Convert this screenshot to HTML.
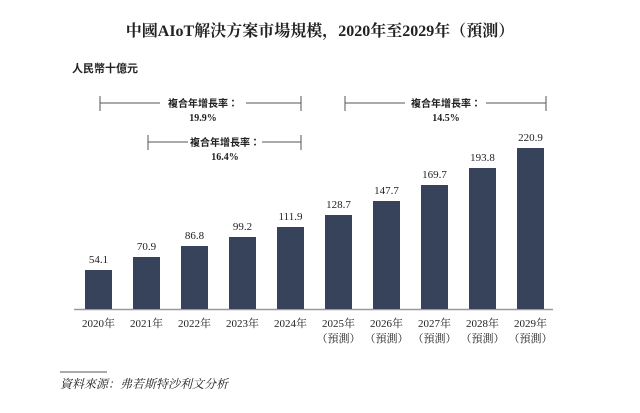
<!DOCTYPE html>
<html><head><meta charset="utf-8"><style>
body{margin:0;background:#fff;}
svg text{font-family:"Liberation Serif","Noto Serif CJK SC",serif;fill:#222;}
.s{font-family:"Liberation Sans","Noto Sans CJK TC",sans-serif !important;}
</style></head><body>
<svg width="640" height="408" viewBox="0 0 640 408" xmlns="http://www.w3.org/2000/svg">
<text x="320" y="36" text-anchor="middle" font-size="16" font-weight="bold">中國AIoT解決方案市場規模，2020年至2029年（預測）</text>
<text x="72" y="72" font-size="11" font-weight="bold" class="s">人民幣十億元</text>
<g stroke="#555" stroke-width="1" fill="none">
<line x1="100" y1="103" x2="160" y2="103"/><line x1="246" y1="103" x2="301" y2="103"/>
<line x1="100" y1="96" x2="100" y2="111"/><line x1="301" y1="96" x2="301" y2="111"/>
<line x1="148" y1="142" x2="188" y2="142"/><line x1="262" y1="142" x2="301" y2="142"/>
<line x1="148" y1="135" x2="148" y2="150"/><line x1="301" y1="135" x2="301" y2="150"/>
<line x1="345" y1="103" x2="405" y2="103"/><line x1="486" y1="103" x2="546" y2="103"/>
<line x1="345" y1="96" x2="345" y2="111"/><line x1="546" y1="96" x2="546" y2="111"/>
</g>
<g font-size="10" font-weight="bold" text-anchor="middle">
<text x="203" y="107" class="s">複合年增長率：</text><text x="203" y="121">19.9%</text>
<text x="225" y="146" class="s">複合年增長率：</text><text x="225" y="160">16.4%</text>
<text x="446" y="107" class="s">複合年增長率：</text><text x="446" y="121">14.5%</text>
</g>
<line x1="74" y1="309.5" x2="553" y2="309.5" stroke="#999" stroke-width="1.5"/>
<g fill="#36435a">
<rect x="85" y="270" width="27" height="39"/>
<rect x="133" y="257" width="27" height="52"/>
<rect x="181" y="246" width="27" height="63"/>
<rect x="229" y="237" width="27" height="72"/>
<rect x="277" y="227" width="27" height="82"/>
<rect x="325" y="215" width="27" height="94"/>
<rect x="373" y="201" width="27" height="108"/>
<rect x="421" y="185" width="27" height="124"/>
<rect x="469" y="168" width="27" height="141"/>
<rect x="517" y="148" width="27" height="161"/>
</g>
<g font-size="11" text-anchor="middle">
<text x="98.5" y="263">54.1</text><text x="146.5" y="250">70.9</text><text x="194.5" y="239">86.8</text>
<text x="242.5" y="230">99.2</text><text x="290.5" y="220">111.9</text><text x="338.5" y="208">128.7</text>
<text x="386.5" y="194">147.7</text><text x="434.5" y="178">169.7</text><text x="482.5" y="161">193.8</text>
<text x="530.5" y="141">220.9</text>
<text x="98.5" y="327">2020年</text><text x="146.5" y="327">2021年</text><text x="194.5" y="327">2022年</text>
<text x="242.5" y="327">2023年</text><text x="290.5" y="327">2024年</text><text x="338.5" y="327">2025年</text>
<text x="386.5" y="327">2026年</text><text x="434.5" y="327">2027年</text><text x="482.5" y="327">2028年</text>
<text x="530.5" y="327">2029年</text>
<text x="338.5" y="342">（預測）</text><text x="386.5" y="342">（預測）</text><text x="434.5" y="342">（預測）</text>
<text x="482.5" y="342">（預測）</text><text x="530.5" y="342">（預測）</text>
</g>
<line x1="60" y1="372" x2="107" y2="372" stroke="#555" stroke-width="1"/>
<text x="60" y="388" font-size="12" font-style="italic">資料來源：弗若斯特沙利文分析</text>
</svg>
</body></html>
